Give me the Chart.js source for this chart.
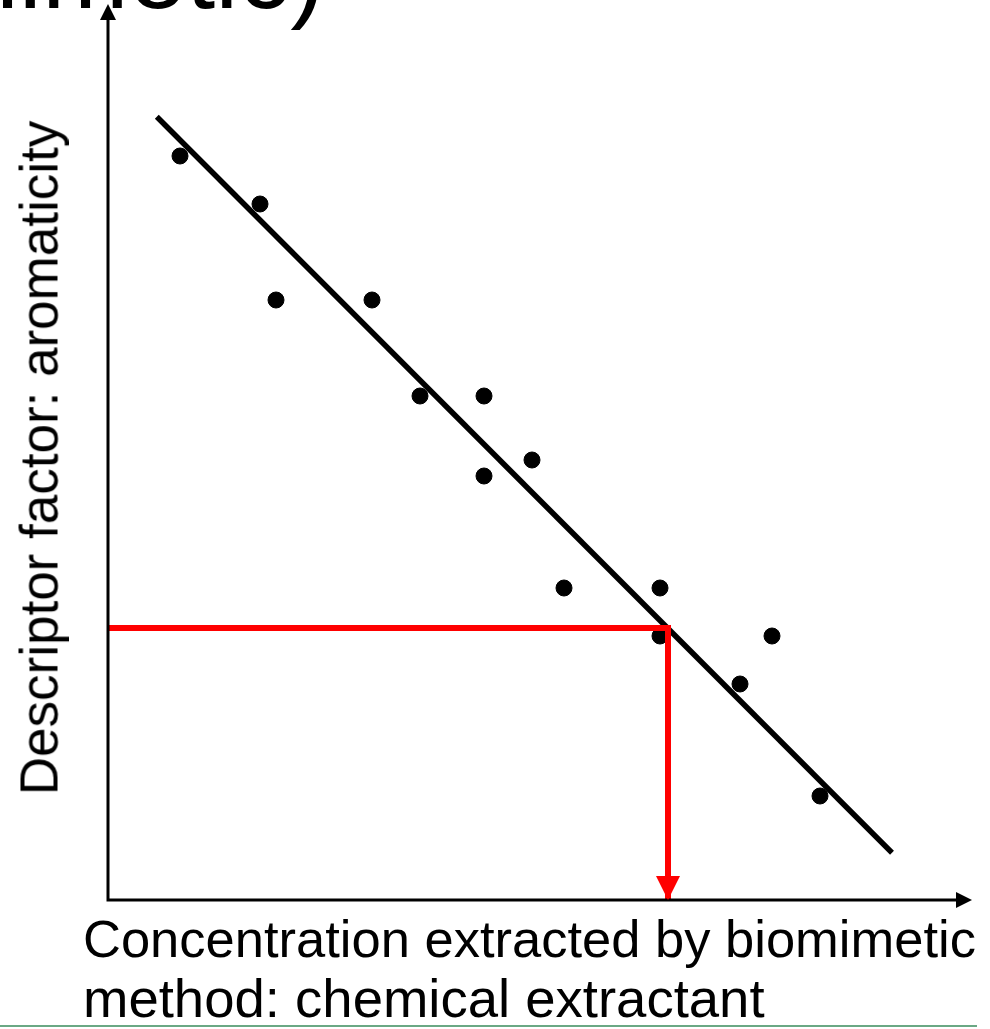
<!DOCTYPE html>
<html lang="en">
<head>
    <meta charset="UTF-8">
    <title>Descriptor factor vs biomimetic extraction</title>
    <style>
        html, body {
            height: 100%;
            margin: 0;
            padding: 0;
            overflow: hidden;
            background: #fff;
        }
        .wrap {
            position: relative;
            width: 990px;
            height: 1029px;
            font-family: "Liberation Sans", Arial, sans-serif;
            color: #000;
        }
        .slide-title {
            position: absolute;
            right: 665px;
            top: -80px;
            font-size: 104px;
            line-height: 1;
            white-space: nowrap;
        }
        .y-title {
            position: absolute;
            left: 39px;
            top: 458px;
            font-size: 53px;
            line-height: 1;
            white-space: nowrap;
            transform: translate(-50%, -50%) rotate(-90deg);
        }
        .x-title {
            position: absolute;
            left: 83px;
            line-height: 1;
            white-space: nowrap;
        }
        .x-title.l1 { top: 913px; font-size: 52.5px; }
        .x-title.l2 { top: 972px; font-size: 54.5px; }
        .footer-line {
            position: absolute;
            left: 0;
            top: 1025px;
            width: 977px;
            height: 2px;
            background: #6aa884;
        }
        canvas { position: absolute; left: 0; top: 0; }
    </style>
    <script src="https://cdn.jsdelivr.net/npm/chart.js"></script>
</head>
<body>
<div class="wrap">
    <canvas id="chart" width="990" height="1029"></canvas>
    <div class="slide-title">biomimetic)</div>
    <div class="y-title">Descriptor factor: aromaticity</div>
    <div class="x-title l1">Concentration extracted by biomimetic</div>
    <div class="x-title l2">method: chemical extractant</div>
    <div class="footer-line"></div>
</div>

<script>
    // measured points (arbitrary units)
    const pointsX = [9, 19, 21, 33, 39, 47, 47, 53, 57, 69, 69, 79, 83, 89];
    const pointsY = [93, 87, 75, 75, 63, 63, 53, 55, 39, 39, 33, 27, 33, 13];

    // regression line end points
    const fitX = [6.1, 98];
    const fitY = [97.9, 5.9];

    const guideY = 34;
    const guideX = 70;

    const axisMaxX = 108;
    const axisMaxY = 112;

    const scatterData = pointsX.map((x, i) => ({ x: x, y: pointsY[i] }));
    const fitData = fitX.map((x, i) => ({ x: x, y: fitY[i] }));
    const guideData = [
        { x: 0, y: guideY },
        { x: guideX, y: guideY },
        { x: guideX, y: 0 }
    ];

    function arrowHead(ctx, tipX, tipY, dirX, dirY, len, half, color) {
        const bx = tipX - dirX * len;
        const by = tipY - dirY * len;
        ctx.beginPath();
        ctx.moveTo(tipX, tipY);
        ctx.lineTo(bx - dirY * half, by + dirX * half);
        ctx.lineTo(bx + dirY * half, by - dirX * half);
        ctx.closePath();
        ctx.fillStyle = color;
        ctx.fill();
    }

    // draws both axes with arrows, and the arrow tip of the red guide
    const arrowsPlugin = {
        id: 'arrows',
        afterDatasetsDraw(chart) {
            const ctx = chart.ctx;
            const sx = chart.scales.x;
            const sy = chart.scales.y;
            const x0 = sx.getPixelForValue(0);
            const y0 = sy.getPixelForValue(0);
            const xEnd = sx.getPixelForValue(axisMaxX);
            const yEnd = sy.getPixelForValue(axisMaxY);

            ctx.save();
            ctx.strokeStyle = '#000';
            ctx.lineWidth = 3;
            ctx.lineCap = 'square';
            ctx.beginPath();
            ctx.moveTo(x0, yEnd + 12);
            ctx.lineTo(x0, y0);
            ctx.lineTo(xEnd - 12, y0);
            ctx.stroke();
            arrowHead(ctx, x0, yEnd, 0, -1, 16, 8, '#000');
            arrowHead(ctx, xEnd, y0, 1, 0, 16, 8, '#000');

            const gx = sx.getPixelForValue(guideX);
            arrowHead(ctx, gx, y0, 0, 1, 24, 12, '#ff0000');
            ctx.restore();
        }
    };

    const ctx = document.getElementById('chart').getContext('2d');
    const chart = new Chart(ctx, {
        type: 'scatter',
        data: {
            datasets: [
                {
                    label: 'Fit',
                    type: 'line',
                    data: fitData,
                    borderColor: '#000',
                    borderWidth: 5.5,
                    pointRadius: 0,
                    fill: false,
                    order: 2
                },
                {
                    label: 'Guide',
                    type: 'line',
                    data: guideData,
                    borderColor: '#ff0000',
                    borderWidth: 6,
                    pointRadius: 0,
                    fill: false,
                    borderJoinStyle: 'miter',
                    order: 1
                },
                {
                    label: 'Chemicals',
                    data: scatterData,
                    backgroundColor: '#000',
                    borderColor: '#000',
                    pointRadius: 8,
                    pointHoverRadius: 8,
                    order: 3
                }
            ]
        },
        options: {
            responsive: false,
            animation: false,
            layout: {
                autoPadding: false,
                padding: { left: 108, right: 18, top: 4, bottom: 129 }
            },
            plugins: {
                legend: { display: false },
                tooltip: { enabled: false }
            },
            scales: {
                x: { type: 'linear', min: 0, max: axisMaxX, display: false },
                y: { type: 'linear', min: 0, max: axisMaxY, display: false }
            }
        },
        plugins: [arrowsPlugin]
    });
</script>
</body>
</html>
